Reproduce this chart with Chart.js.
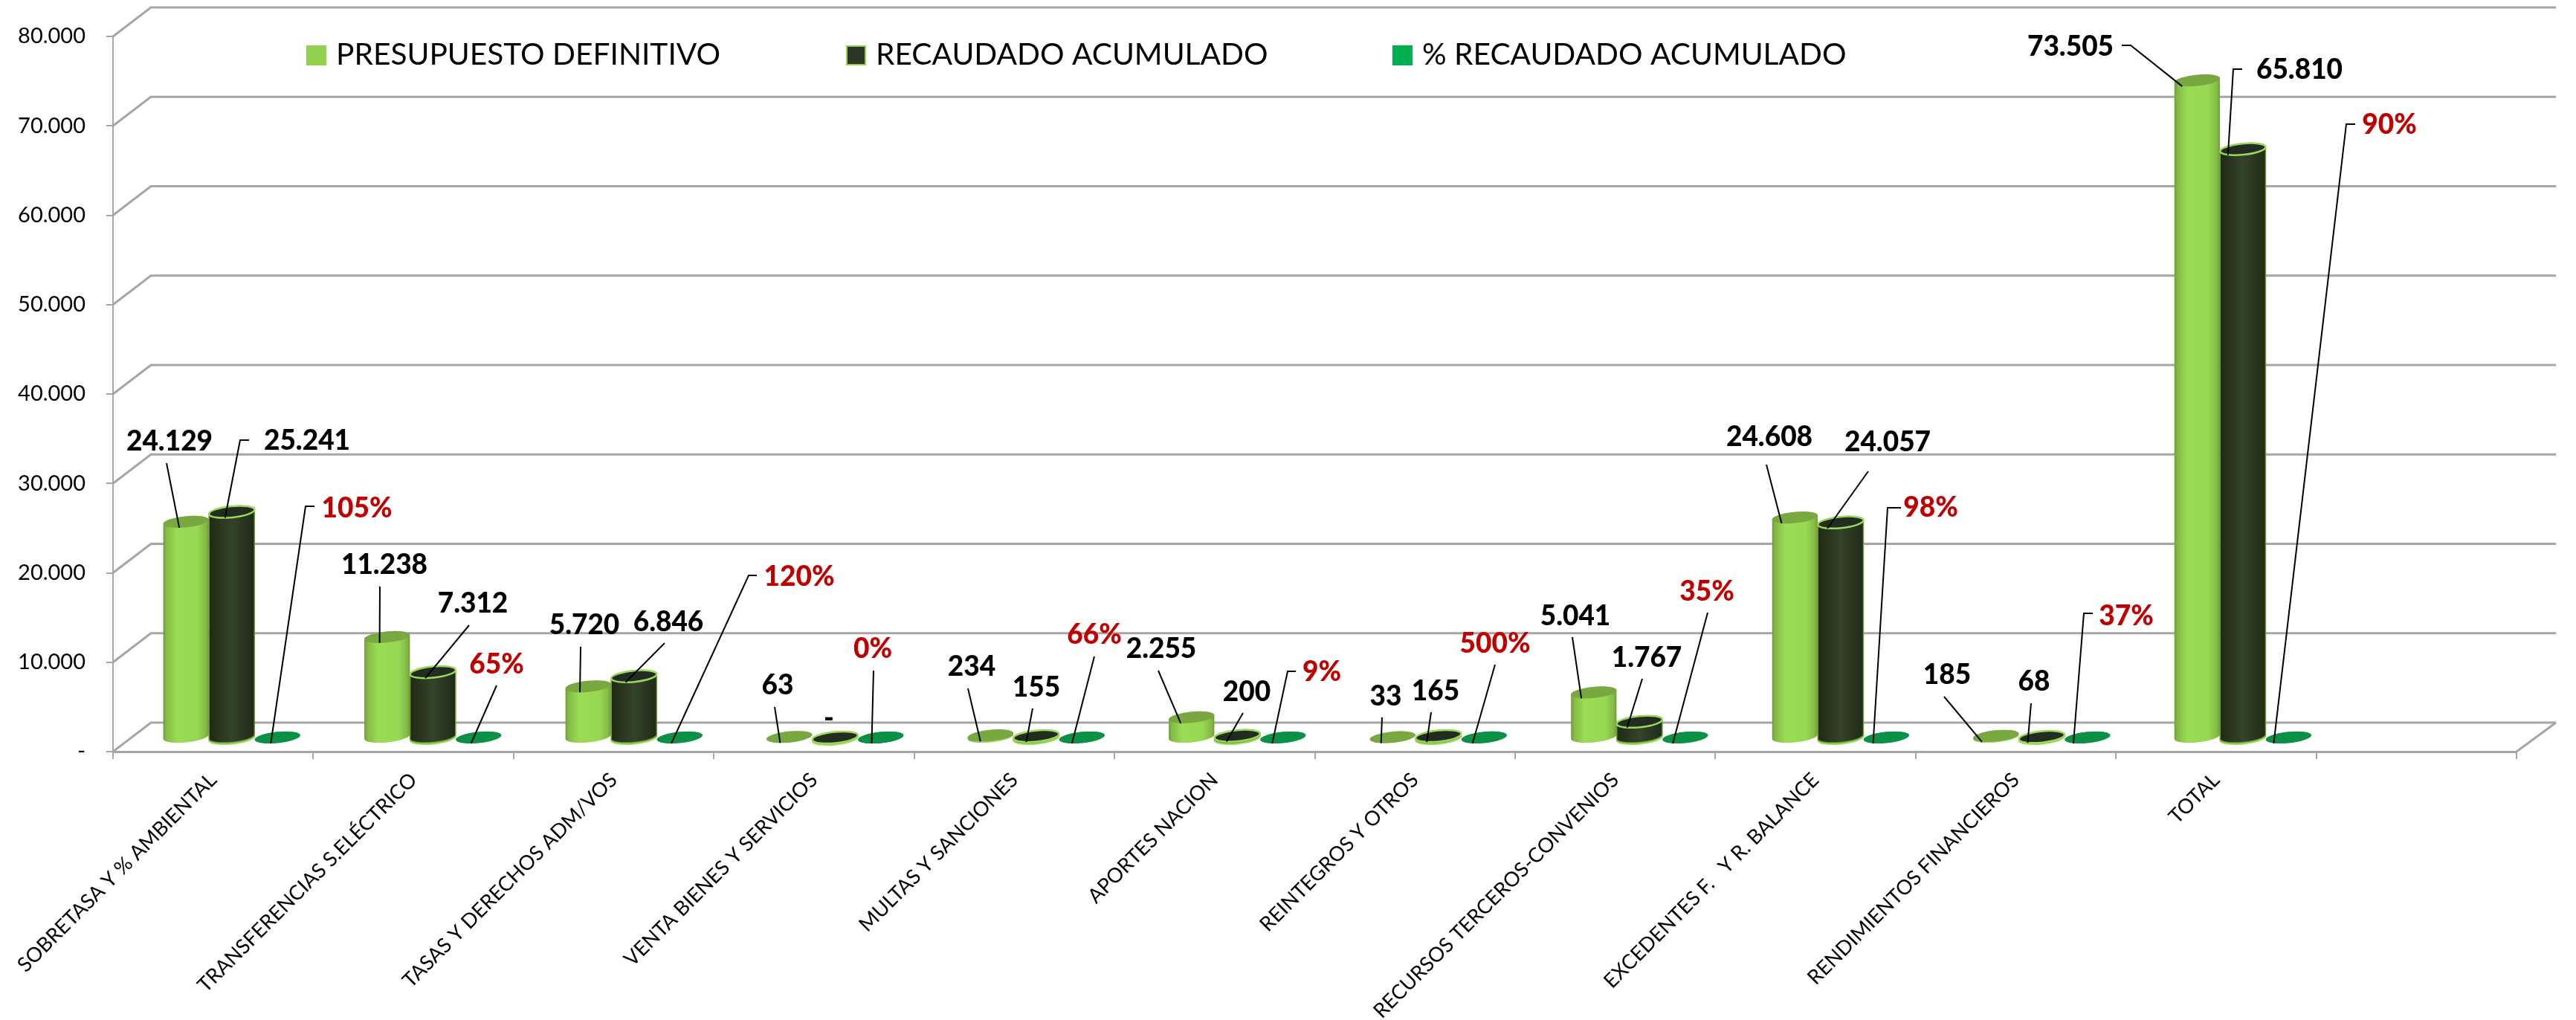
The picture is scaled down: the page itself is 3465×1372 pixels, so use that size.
<!DOCTYPE html>
<html>
<head>
<meta charset="utf-8">
<title>Presupuesto vs recaudado</title>
<script src="https://cdn.jsdelivr.net/npm/chart.js@4"></script>
<style>
    html, body { margin: 0; padding: 0; background: #fff; }
    canvas { display: block; }
</style>
</head>
<body>
<canvas id="myChart" width="3465" height="1372"></canvas>
<script>
'use strict';

// last category is empty on purpose, the original axis has a free slot after TOTAL
const categories = [
    'SOBRETASA Y % AMBIENTAL', 'TRANSFERENCIAS S.ELÉCTRICO', 'TASAS Y DERECHOS ADM/VOS',
    'VENTA BIENES Y SERVICIOS', 'MULTAS Y SANCIONES', 'APORTES NACION', 'REINTEGROS Y OTROS',
    'RECURSOS TERCEROS-CONVENIOS', 'EXCEDENTES F.   Y R. BALANCE', 'RENDIMIENTOS FINANCIEROS',
    'TOTAL', ''
];
const presupuesto = [24129, 11238, 5720, 63, 234, 2255, 33, 5041, 24608, 185, 73505];
const recaudado = [25241, 7312, 6846, 0, 155, 200, 165, 1767, 24057, 68, 65810];
const porcentaje = [1.05, 0.65, 1.20, 0, 0.66, 0.09, 5.00, 0.35, 0.98, 0.37, 0.90];
const yTickLabels = ['-', '10.000', '20.000', '30.000', '40.000', '50.000', '60.000', '70.000', '80.000'];

const presupuestoText = ['24.129', '11.238', '5.720', '63', '234', '2.255', '33', '5.041', '24.608', '185', '73.505'];
const recaudadoText = ['25.241', '7.312', '6.846', '-', '155', '200', '165', '1.767', '24.057', '68', '65.810'];
const porcentajeText = ['105%', '65%', '120%', '0%', '66%', '9%', '500%', '35%', '98%', '37%', '90%'];

// hand placed callouts, as dragged in the original: label x, y, leader start x, y, optional elbow x
const presupuestoSpots = [
    [228, 594, 224, 623], [517, 760, 511, 789], [786, 841, 781, 870], [1046, 922, 1042, 951],
    [1307, 897, 1302, 926], [1562, 873, 1558, 902], [1864, 937, 1859, 965], [2119, 829, 2115, 857],
    [2380, 588, 2376, 625], [2619, 908, 2615, 937], [2785, 63, 2854, 61, 2866]
];
const recaudadoSpots = [
    [413, 593, 335, 592, 323], [636, 812, 631, 841], [899, 837, 894, 865], [1115, 966],
    [1394, 925, 1389, 953], [1677, 931, 1672, 959], [1931, 930, 1925, 958], [2215, 885, 2209, 913],
    [2539, 595, 2513, 634], [2736, 917, 2732, 946], [3093, 94, 3016, 93, 3004]
];
const porcentajeSpots = [
    [480, 684, 423, 681, 411], [668, 894, 668, 922], [1075, 776, 1018, 774, 1007], [1174, 873, 1175, 902],
    [1472, 854, 1472, 883], [1778, 904, 1743, 903, 1732], [2011, 866, 2011, 894], [2296, 796, 2297, 824],
    [2597, 683, 2557, 683, 2539], [2860, 829, 2815, 825, 2803], [3214, 168, 3168, 167, 3156]
];

const FONT = 'Lato, Carlito, sans-serif';
const GRID = '#a6a6a6';
const BAR_DX = 25, BAR_DY = 19, BAR_SKEW = 1.1;  // fake 3d: bars stand behind the front axis
const WALL_DX = 51, WALL_DY = 39;
const TILT = -0.1, TOP_RY = 7.5;

const looks = [
    {
        side: [[0, '#6f9c3a'], [0.07, '#84ba45'], [0.3, '#9bdc55'], [0.75, '#97d853'], [0.93, '#84ba45'], [1, '#6f9c3a']],
        top: '#7aa840'
    },
    {
        side: [[0, '#1f2915'], [0.5, '#35432a'], [1, '#1e2a16']],
        top: '#232c20', rim: '#9ad85a', edge: '#6f9c3a'
    },
    {
        side: [[0, '#07803c'], [1, '#0c9c4a']],
        top: '#0b9146'
    }
];

function drawCylinder(ctx, cx, top, base, a, look) {
    const grad = ctx.createLinearGradient(cx - a, 0, cx + a, 0);
    look.side.forEach(function(stop) { grad.addColorStop(stop[0], stop[1]); });

    if (look.rim) {
        ctx.fillStyle = look.rim;
        ctx.beginPath();
        ctx.ellipse(cx, base + 2, a + 1, TOP_RY + 1, TILT, 0, Math.PI * 2);
        ctx.fill();
    }
    ctx.beginPath();
    ctx.ellipse(cx, base, a, TOP_RY, TILT, 0, Math.PI);
    ctx.ellipse(cx, top, a, TOP_RY, TILT, Math.PI, Math.PI * 2);
    ctx.closePath();
    ctx.fillStyle = grad;
    ctx.fill();
    if (look.edge) {
        ctx.strokeStyle = look.edge;
        ctx.lineWidth = 1.5;
        ctx.stroke();
    }

    ctx.beginPath();
    ctx.ellipse(cx, top, a, TOP_RY, TILT, 0, Math.PI * 2);
    ctx.fillStyle = look.top;
    ctx.fill();
    if (look.rim) {
        ctx.strokeStyle = look.rim;
        ctx.lineWidth = 2.5;
        ctx.stroke();
    }
}

const wallsPlugin = {
    id: 'walls',
    beforeDatasetsDraw: function(chart) {
        const ctx = chart.ctx;
        const area = chart.chartArea;
        const y = chart.scales.y;
        ctx.save();
        ctx.strokeStyle = GRID;
        ctx.lineWidth = 3;
        y.ticks.forEach(function(tick) {
            const py = y.getPixelForValue(tick.value);
            ctx.beginPath();
            ctx.moveTo(area.left, py);
            ctx.lineTo(area.left + WALL_DX, py - WALL_DY);
            ctx.lineTo(area.right + WALL_DX + 2, py - WALL_DY);
            ctx.stroke();
        });
        const floor = y.getPixelForValue(0);
        ctx.beginPath();
        ctx.moveTo(area.right, floor);
        ctx.lineTo(area.right + WALL_DX + 2, floor - WALL_DY);
        ctx.stroke();
        ctx.restore();
    }
};

// cylinders replace the flat bars, drawn from the bar elements so the scales still decide everything
const cylinderPlugin = {
    id: 'cylinders',
    beforeDatasetDraw: function() {
        return false;
    },
    afterDatasetsDraw: function(chart) {
        chart.data.datasets.forEach(function(ds, s) {
            chart.getDatasetMeta(s).data.forEach(function(bar, i) {
                const cx = bar.x + BAR_DX + BAR_SKEW * i;
                drawCylinder(chart.ctx, cx, bar.y - BAR_DY, bar.base - BAR_DY, bar.width / 2, looks[s]);
            });
        });
    }
};

const calloutPlugin = {
    id: 'callouts',
    afterDatasetsDraw: function(chart) {
        const ctx = chart.ctx;
        const sets = [
            [presupuestoText, presupuestoSpots, '#000'],
            [recaudadoText, recaudadoSpots, '#000'],
            [porcentajeText, porcentajeSpots, '#c00000']
        ];
        ctx.save();
        sets.forEach(function(set, s) {
            const bars = chart.getDatasetMeta(s).data;
            set[1].forEach(function(spot, i) {
                if (spot.length > 2) {
                    ctx.beginPath();
                    ctx.moveTo(spot[2], spot[3]);
                    if (spot.length > 4) ctx.lineTo(spot[4], spot[3]);
                    ctx.lineTo(bars[i].x + 16, bars[i].y - 11);
                    ctx.strokeStyle = '#000';
                    ctx.lineWidth = 2;
                    ctx.stroke();
                }
                ctx.font = '900 37px ' + FONT;
                ctx.textAlign = 'center';
                ctx.textBaseline = 'middle';
                ctx.fillStyle = set[2];
                ctx.fillText(set[0][i], spot[0], spot[1]);
            });
        });
        ctx.restore();
    }
};

const legendPlugin = {
    id: 'topLegend',
    afterDraw: function(chart) {
        const ctx = chart.ctx;
        const boxX = [412, 1138, 1873];
        ctx.save();
        ctx.font = '40.7px ' + FONT;
        ctx.textAlign = 'left';
        ctx.textBaseline = 'middle';
        chart.data.datasets.forEach(function(ds, i) {
            ctx.fillStyle = ds.backgroundColor;
            ctx.fillRect(boxX[i], 61, 27, 27);
            if (ds.borderColor) {
                ctx.strokeStyle = ds.borderColor;
                ctx.lineWidth = 2;
                ctx.strokeRect(boxX[i] + 1, 62, 25, 25);
            }
            ctx.fillStyle = '#000';
            ctx.fillText(ds.label, boxX[i] + 40, 74);
        });
        ctx.restore();
    }
};

new Chart(document.getElementById('myChart'), {
    type: 'bar',
    data: {
        labels: categories,
        datasets: [
            { label: 'PRESUPUESTO DEFINITIVO', data: presupuesto, backgroundColor: '#92d050' },
            { label: 'RECAUDADO ACUMULADO', data: recaudado, backgroundColor: '#2b3722', borderColor: '#92d050' },
            { label: '% RECAUDADO ACUMULADO', data: porcentaje, backgroundColor: '#00b050' }
        ]
    },
    plugins: [wallsPlugin, cylinderPlugin, calloutPlugin, legendPlugin],
    options: {
        responsive: false,
        animation: false,
        layout: { autoPadding: false, padding: { top: 49, right: 80, left: 0, bottom: 0 } },
        datasets: { bar: { categoryPercentage: 0.685, barPercentage: 1 } },
        plugins: { legend: { display: false }, tooltip: { enabled: false } },
        scales: {
            x: {
                grid: { offset: true, drawOnChartArea: false, color: GRID, tickLength: 10, lineWidth: 2 },
                border: { color: GRID, width: 3 },
                ticks: {
                    autoSkip: false, maxRotation: 45, minRotation: 45, padding: 12,
                    color: '#000', font: { family: FONT, size: 27.3 }
                },
                afterFit: function(scale) { scale.height = 361; }
            },
            y: {
                min: 0,
                max: 80000,
                grid: { drawOnChartArea: false, color: GRID, tickLength: 9, lineWidth: 2 },
                border: { color: GRID, width: 2 },
                ticks: {
                    stepSize: 10000, padding: 28, color: '#000', font: { family: FONT, size: 29 },
                    callback: function(value, index) { return yTickLabels[index]; }
                },
                afterFit: function(scale) { scale.width = 152; }
            }
        }
    }
});
</script>
</body>
</html>
